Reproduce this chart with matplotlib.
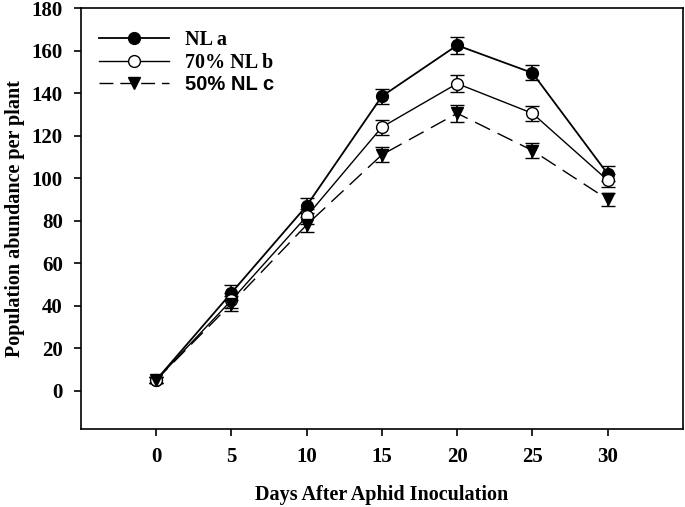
#!/usr/bin/env python3
# aphid population abundance per plant

import numpy as np
import matplotlib.pyplot as plt
from matplotlib.lines import Line2D

days = [0, 5, 10, 15, 20, 25, 30]

nl_a = [5, 46, 87, 138.5, 162.5, 149.5, 102]
nl_a_err = [1.5, 3.5, 3.5, 3.5, 4, 3.5, 3.5]

nl_b = [5, 42.5, 82, 124, 144.5, 130.5, 99]
nl_b_err = [1.5, 3.5, 3.5, 3.5, 4, 3.5, 3]

nl_c = [5, 41, 78, 111, 130.5, 113, 90]
nl_c_err = [1.5, 3.5, 3.5, 3.5, 4, 3.5, 3]

labels = ["NL a", "70% NL b", "50% NL c"]

serif = ["Liberation Serif", "DejaVu Serif"]
sans = ["Liberation Sans", "DejaVu Sans"]


def main():
    fig = plt.figure(figsize=(6.85, 5.07), dpi=100)
    ax = fig.add_axes([0.118, 0.154, 0.879, 0.830])

    common = dict(color="black", capsize=4.7, capthick=1.2, elinewidth=1.2,
                  markersize=8.5, markeredgecolor="black", markeredgewidth=1.0)
    ax.errorbar(days, nl_a, yerr=nl_a_err, fmt="-o", lw=1.3,
                markerfacecolor="black", zorder=3, **common)
    ax.errorbar(days, nl_b, yerr=nl_b_err, fmt="-o", lw=1.0,
                markerfacecolor="white", zorder=3, **common)
    ax.errorbar(days, nl_c, yerr=nl_c_err, fmt="v", ls=(0, (12, 6)), lw=1.0,
                markerfacecolor="black", zorder=3, **common)

    ax.set_xlim(-5, 35)
    ax.set_ylim(-18, 180)
    ax.set_xticks(days)
    ax.set_yticks(np.arange(0, 181, 20))
    ax.tick_params(direction="out", length=5, width=1.2)
    ax.tick_params(axis="x", pad=8)
    ax.tick_params(axis="y", pad=8)
    for lab in ax.get_xticklabels() + ax.get_yticklabels():
        lab.set_family(serif)
        lab.set_fontweight("bold")
        lab.set_fontsize(15)
    for s in ax.spines.values():
        s.set_linewidth(1.2)

    ax.set_xlabel("Days After Aphid Inoculation", family=serif,
                  fontweight="bold", fontsize=14.5, labelpad=13)
    ax.set_ylabel("Population abundance per plant", family=serif,
                  fontweight="bold", fontsize=14.5, labelpad=5)

    handles = [
        Line2D([], [], color="black", lw=1.3, marker="o", markersize=8.5,
               markerfacecolor="black", markeredgecolor="black"),
        Line2D([], [], color="black", lw=1.0, marker="o", markersize=8.5,
               markerfacecolor="white", markeredgecolor="black"),
        Line2D([], [], color="black", lw=1.0, ls=(0, (10, 5)), marker="v",
               markersize=8.5, markerfacecolor="black", markeredgecolor="black"),
    ]
    leg = ax.legend(handles, labels, loc="upper left", frameon=False,
                    handlelength=3.5, handletextpad=0.75, labelspacing=0.12,
                    bbox_to_anchor=(0.0, 0.99), prop=dict(size=14.5, weight="bold"))
    texts = leg.get_texts()
    texts[0].set_family(serif)
    texts[1].set_family(serif)
    texts[2].set_family(sans)

    fig.savefig("out.png", dpi=100)


if __name__ == "__main__":
    main()
